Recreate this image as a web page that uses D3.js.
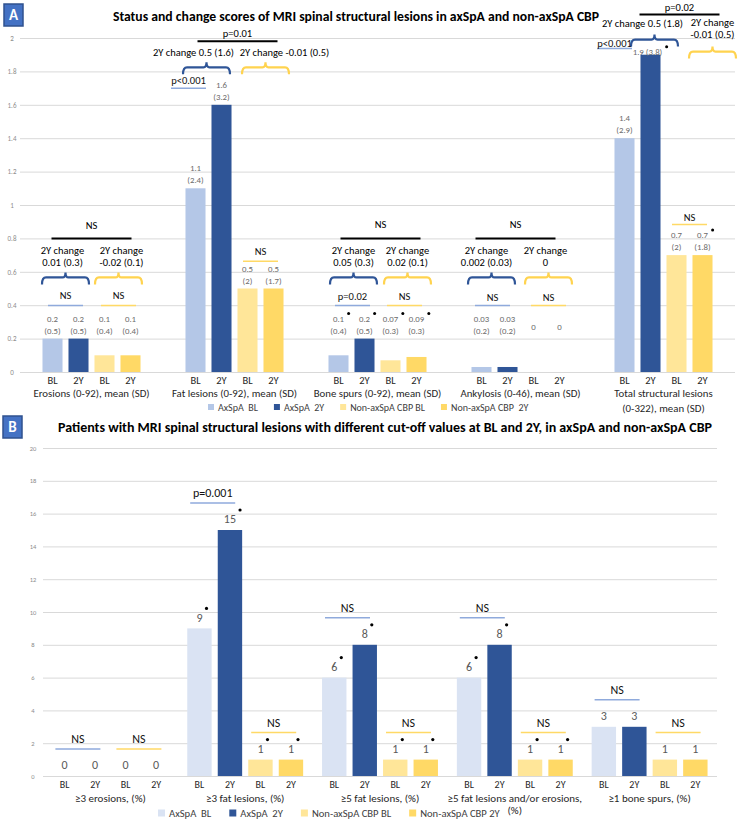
<!DOCTYPE html>
<html>
<head>
<meta charset="utf-8">
<script src="https://cdn.jsdelivr.net/npm/d3@7"></script>
<style>
  body { margin: 0; background: #fff; }
  svg { font-family: Carlito, Lato, "Liberation Sans", sans-serif; }
</style>
</head>
<body>
<svg id="chart" width="740" height="820"></svg>
<script>
// ---------- data ----------
const seriesA = ['AxSpA  BL', 'AxSpA  2Y', 'Non-axSpA CBP BL', 'Non-axSpA CBP  2Y'];
const seriesB = ['AxSpA  BL', 'AxSpA  2Y', 'Non-axSpA CBP BL', 'Non-axSpA CBP 2Y'];
const timeLabels = ['BL', '2Y', 'BL', '2Y'];

const categoriesA = [
  ['Erosions (0-92), mean (SD)'],
  ['Fat lesions (0-92), mean (SD)'],
  ['Bone spurs (0-92), mean (SD)'],
  ['Ankylosis (0-46), mean (SD)'],
  ['Total structural lesions', '(0-322), mean (SD)']
];
const meansA = [
  [0.2, 0.2, 0.1, 0.1],
  [1.1, 1.6, 0.5, 0.5],
  [0.1, 0.2, 0.07, 0.09],
  [0.03, 0.03, 0, 0],
  [1.4, 1.9, 0.7, 0.7]
];
const sdsA = [
  ['0.5', '0.5', '0.4', '0.4'],
  ['2.4', '3.2', '2', '1.7'],
  ['0.4', '0.5', '0.3', '0.3'],
  ['0.2', '0.2', null, null],
  ['2.9', '3.8', '2', '1.8']
];
const dotsA = [
  [0, 0, 0, 0],
  [0, 0, 0, 0],
  [1, 1, 1, 1],
  [0, 0, 0, 0],
  [0, 1, 0, 1]
];
const betweenA = ['NS', 'p=0.01', 'NS', 'NS', 'p=0.02'];
const changeAxA = [['2Y change', '0.01 (0.3)'], ['2Y change 0.5 (1.6)'], ['2Y change', '0.05 (0.3)'], ['2Y change', '0.002 (0.03)'], ['2Y change 0.5 (1.8)']];
const changeNonA = [['2Y change', '-0.02 (0.1)'], ['2Y change -0.01 (0.5)'], ['2Y change', '0.02 (0.1)'], ['2Y change', '0'], ['2Y change', '-0.01 (0.5)']];
const withinAxA = ['NS', 'p<0.001', 'p=0.02', 'NS', 'p<0.001'];
const withinNonA = ['NS', 'NS', 'NS', 'NS', 'NS'];
const ticksA = [0, 0.2, 0.4, 0.6, 0.8, 1, 1.2, 1.4, 1.6, 1.8, 2];

const categoriesB = [
  ['≥3 erosions, (%)'],
  ['≥3 fat lesions, (%)'],
  ['≥5 fat lesions, (%)'],
  ['≥5 fat lesions and/or erosions,', '(%)'],
  ['≥1 bone spurs, (%)']
];
const percentB = [
  [0, 0, 0, 0],
  [9, 15, 1, 1],
  [6, 8, 1, 1],
  [6, 8, 1, 1],
  [3, 3, 1, 1]
];
const dotsB = [
  [0, 0, 0, 0],
  [1, 1, 1, 1],
  [1, 1, 1, 1],
  [1, 1, 1, 1],
  [0, 0, 0, 0]
];
const withinAxB = ['NS', 'p=0.001', 'NS', 'NS', 'NS'];
const withinNonB = ['NS', 'NS', 'NS', 'NS', 'NS'];
const ticksB = [0, 2, 4, 6, 8, 10, 12, 14, 16, 18, 20];

// ---------- styles ----------
const colorsA = ['#b4c7e7', '#2f5597', '#ffe699', '#ffd966'];
const colorsB = ['#dae3f3', '#2f5597', '#ffe699', '#ffd966'];
const braceCol = ['#2f5597', '#ffd34f'];
const thinCol = ['#8faadc', '#ffd966'];
const gridCol = '#d9d9d9';

const svg = d3.select('#chart');

const panelBox = (x, y, letter) => {
  svg.append('rect')
    .attr('x', x).attr('y', y).attr('width', 19).attr('height', 22)
    .attr('fill', '#4472c4').attr('stroke', '#2f528f').attr('stroke-width', 1.5);
  svg.append('text')
    .attr('x', x + 9.5).attr('y', y + 11).attr('dy', '0.36em')
    .attr('text-anchor', 'middle').attr('fill', '#fff')
    .attr('font-weight', 700).attr('font-size', 15)
    .text(letter);
};

const brace = (g, x1, x2, y, color) => {
  const xm = (x1 + x2) / 2;
  g.append('path')
    .attr('d', `M${x1},${y + 7} Q${x1},${y} ${x1 + 4},${y} H${xm - 3} Q${xm},${y} ${xm},${y - 5} Q${xm},${y} ${xm + 3},${y} H${x2 - 4} Q${x2},${y} ${x2},${y + 7}`)
    .attr('fill', 'none')
    .attr('stroke', color)
    .attr('stroke-width', 2.2);
};

const sigLine = (g, cx, half, y, label, color, textDy, size, width) => {
  g.append('line')
    .attr('x1', cx - half).attr('x2', cx + half)
    .attr('y1', y).attr('y2', y)
    .attr('stroke', color).attr('stroke-width', width);
  g.append('text')
    .attr('x', cx).attr('y', y + textDy).attr('dy', '0.35em')
    .attr('text-anchor', 'middle').attr('font-size', size).attr('fill', '#111')
    .text(label);
};

const legend = (x, y, names, colors, size, box, gap) => {
  const lg = svg.append('g').attr('transform', `translate(${x},${y})`);
  let cur = 0;
  names.forEach((n, i) => {
    lg.append('rect')
      .attr('x', cur).attr('y', -box / 2).attr('width', box).attr('height', box)
      .attr('fill', colors[i]);
    const t = lg.append('text')
      .attr('x', cur + box + 4).attr('dy', '0.35em')
      .attr('font-size', size).attr('fill', '#404040')
      .attr('xml:space', 'preserve')
      .text(n);
    cur += box + 4 + t.node().getComputedTextLength() + gap;
  });
};

// ================= PANEL A =================
panelBox(4, 4, 'A');
svg.append('text')
  .attr('x', 356).attr('y', 16).attr('dy', '0.35em')
  .attr('text-anchor', 'middle').attr('font-weight', 700).attr('font-size', 13.7)
  .text('Status and change scores of MRI spinal structural lesions in axSpA and non-axSpA CBP');

const yA = d3.scaleLinear().domain([0, 2]).range([372, 38]);
const xA = d3.scaleBand().domain(d3.range(categoriesA.length)).range([20, 735]);
const xInA = d3.scaleBand().domain(d3.range(seriesA.length)).range([-52, 52])
  .paddingInner(0.23).paddingOuter(0.115);
const gcA = g => xA(g) + xA.bandwidth() / 2;
const cxA = (g, s) => gcA(g) + xInA(s) + xInA.bandwidth() / 2;

const axA = svg.append('g')
  .attr('transform', 'translate(20,0)')
  .call(d3.axisLeft(yA).tickValues(ticksA).tickSize(-715).tickFormat(d3.format('~g')));
axA.attr('font-family', null);
axA.select('.domain').remove();
axA.selectAll('.tick line').attr('stroke', gridCol);
axA.selectAll('.tick text')
  .attr('x', -8).attr('text-anchor', 'middle')
  .attr('font-size', 7).attr('fill', '#8c8c8c');

const rowsA = meansA.flatMap((vals, g) => vals.map((v, s) => ({ g, s, v, sd: sdsA[g][s], dot: dotsA[g][s] })));

svg.append('g').selectAll('rect')
  .data(rowsA)
  .join('rect')
  .attr('x', d => cxA(d.g, d.s) - xInA.bandwidth() / 2)
  .attr('y', d => yA(d.v))
  .attr('width', xInA.bandwidth())
  .attr('height', d => yA(0) - yA(d.v))
  .attr('fill', d => colorsA[d.s]);

// value labels
const labA = svg.append('g').attr('font-size', 8.8).attr('fill', '#6b6b6b').attr('text-anchor', 'middle');
rowsA.forEach(d => {
  const cx = cxA(d.g, d.s);
  const base = Math.min(yA(d.v), yA(0.2));
  let firstY, first;
  if (d.v >= 1.8) {
    firstY = base - 3;
    first = labA.append('text').attr('x', cx - 3).attr('y', firstY).attr('dy', '0.35em').text(`${d.v} (${d.sd})`);
  } else if (d.sd === null) {
    firstY = base - 12;
    first = labA.append('text').attr('x', cx).attr('y', firstY).attr('dy', '0.35em').text(d.v);
  } else {
    firstY = base - 20;
    first = labA.append('text').attr('x', cx).attr('y', firstY).attr('dy', '0.35em').text(d.v);
    labA.append('text').attr('x', cx).attr('y', base - 8).attr('dy', '0.35em').text(`(${d.sd})`);
  }
  if (d.dot) {
    const bb = first.node().getBBox();
    svg.append('circle')
      .attr('cx', bb.x + bb.width + 4).attr('cy', firstY - 5)
      .attr('r', 1.5).attr('fill', '#000');
  }
});

// x labels
const xlabA = svg.append('g').attr('text-anchor', 'middle').attr('fill', '#262626');
rowsA.forEach(d => {
  xlabA.append('text')
    .attr('x', cxA(d.g, d.s)).attr('y', 380).attr('dy', '0.35em')
    .attr('font-size', 10.5).text(timeLabels[d.s]);
});
categoriesA.forEach((lines, g) => {
  lines.forEach((l, i) => {
    xlabA.append('text')
      .attr('x', gcA(g)).attr('y', 393 + i * 15).attr('dy', '0.35em')
      .attr('font-size', 10.8).text(l);
  });
});

// annotations (layout: px offsets from pair centres / black line)
const layoutA = [
  { top: 0.8, topDx: 0, topText: -13, lh: 12, chg: [[-3, 12], [4, 12]], br: [[0, 39], [1, 39]], win: [[0, 67, -10], [1, 67, -10]] },
  { top: 1.98, topDx: 3, topText: -8, lh: 12, chg: [[-15, 11], [24, 11]], br: [[-2, 26], [5, 26]], win: [[-20, 47, -8], [0, 220, -10]] },
  { top: 0.8, topDx: 3, topText: -14, lh: 12, chg: [[2, 12], [4, 12]], br: [[2, 39], [4, 39]], win: [[1, 67, -9], [1, 67, -9]] },
  { top: 0.8, topDx: -5, topText: -14, lh: 12, chg: [[-8, 12], [-1, 12]], br: [[-3, 39], [2, 39]], win: [[-2, 67, -8], [2, 67, -8]] },
  { top: 2.14, topDx: 16, topText: -7, lh: 11.5, chg: [[5, 9], [23, 8]], br: [[17, 25], [23, 37]], win: [[-23, 34, -5], [0, 210, -7]] }
];
const annA = svg.append('g');
layoutA.forEach((L, g) => {
  const topY = yA(L.top);
  const gc = gcA(g) + L.topDx;
  annA.append('line')
    .attr('x1', gc - 40).attr('x2', gc + 40).attr('y1', topY).attr('y2', topY)
    .attr('stroke', '#000').attr('stroke-width', 2);
  annA.append('text')
    .attr('x', gc).attr('y', topY + L.topText).attr('dy', '0.35em')
    .attr('text-anchor', 'middle').attr('font-size', 10.5).text(betweenA[g]);

  const pc = [(cxA(g, 0) + cxA(g, 1)) / 2, (cxA(g, 2) + cxA(g, 3)) / 2];
  const chg = [changeAxA[g], changeNonA[g]];
  const win = [withinAxA[g], withinNonA[g]];
  [0, 1].forEach(k => {
    chg[k].forEach((t, i) => {
      annA.append('text')
        .attr('x', pc[k] + L.chg[k][0]).attr('y', topY + L.chg[k][1] + i * L.lh).attr('dy', '0.35em')
        .attr('text-anchor', 'middle').attr('font-size', 10.5).text(t);
    });
    const bx = pc[k] + L.br[k][0];
    brace(annA, bx - 23.5, bx + 23.5, topY + L.br[k][1], braceCol[k]);
    sigLine(annA, pc[k] + L.win[k][0], 17.5, topY + L.win[k][1], win[k], thinCol[k], L.win[k][2], 10.5, 1.5);
  });
});

legend(208, 407, seriesA, colorsA, 10, 6, 16);

// ================= PANEL B =================
panelBox(3, 416, 'B');
svg.append('text')
  .attr('x', 385).attr('y', 427).attr('dy', '0.35em')
  .attr('text-anchor', 'middle').attr('font-weight', 700).attr('font-size', 14)
  .text('Patients with MRI spinal structural lesions with different cut-off values at BL and 2Y, in axSpA and non-axSpA CBP');

const yB = d3.scaleLinear().domain([0, 20]).range([776, 448]);
const xB = d3.scaleBand().domain(d3.range(categoriesB.length)).range([43, 717]);
const xInB = d3.scaleBand().domain(d3.range(seriesB.length)).range([-61, 61])
  .paddingInner(0.2).paddingOuter(0.1);
const gcB = g => xB(g) + xB.bandwidth() / 2;
const cxB = (g, s) => gcB(g) + xInB(s) + xInB.bandwidth() / 2;

const axB = svg.append('g')
  .attr('transform', 'translate(43,0)')
  .call(d3.axisLeft(yB).tickValues(ticksB).tickSize(-674));
axB.attr('font-family', null);
axB.select('.domain').remove();
axB.selectAll('.tick line').attr('stroke', gridCol);
axB.selectAll('.tick text')
  .attr('x', -10).attr('text-anchor', 'middle')
  .attr('font-size', 6.5).attr('fill', '#8c8c8c');

const rowsB = percentB.flatMap((vals, g) => vals.map((v, s) => ({ g, s, v, dot: dotsB[g][s] })));

svg.append('g').selectAll('rect')
  .data(rowsB)
  .join('rect')
  .attr('x', d => cxB(d.g, d.s) - xInB.bandwidth() / 2)
  .attr('y', d => yB(d.v))
  .attr('width', xInB.bandwidth())
  .attr('height', d => yB(0) - yB(d.v))
  .attr('fill', d => colorsB[d.s]);

const labB = svg.append('g').attr('font-size', 12).attr('fill', '#595959').attr('text-anchor', 'middle');
rowsB.forEach(d => {
  const cx = cxB(d.g, d.s);
  const ly = yB(d.v) - 11;
  const t = labB.append('text').attr('x', cx).attr('y', ly).attr('dy', '0.35em').text(d.v);
  if (d.dot) {
    const bb = t.node().getBBox();
    svg.append('circle')
      .attr('cx', bb.x + bb.width + 4).attr('cy', ly - 9)
      .attr('r', 1.6).attr('fill', '#000');
  }
});

const annB = svg.append('g');
percentB.forEach((vals, g) => {
  const pairs = [[0, 1], [2, 3]];
  const labels = [withinAxB[g], withinNonB[g]];
  pairs.forEach(([a, b], k) => {
    const pc = (cxB(g, a) + cxB(g, b)) / 2 - 2;
    const y = yB(Math.max(vals[a], vals[b])) - 27;
    sigLine(annB, pc, 22.5, y, labels[k], thinCol[k], -10, 12, 1.5);
  });
});

const xlabB = svg.append('g').attr('text-anchor', 'middle').attr('fill', '#262626');
rowsB.forEach(d => {
  xlabB.append('text')
    .attr('x', cxB(d.g, d.s)).attr('y', 784).attr('dy', '0.35em')
    .attr('font-size', 10).text(timeLabels[d.s]);
});
categoriesB.forEach((lines, g) => {
  lines.forEach((l, i) => {
    xlabB.append('text')
      .attr('x', gcB(g)).attr('y', 798 + i * 12).attr('dy', '0.35em')
      .attr('font-size', 11).text(l);
  });
});

legend(158, 813, seriesB, colorsB, 10.6, 7, 18);
</script>
</body>
</html>
